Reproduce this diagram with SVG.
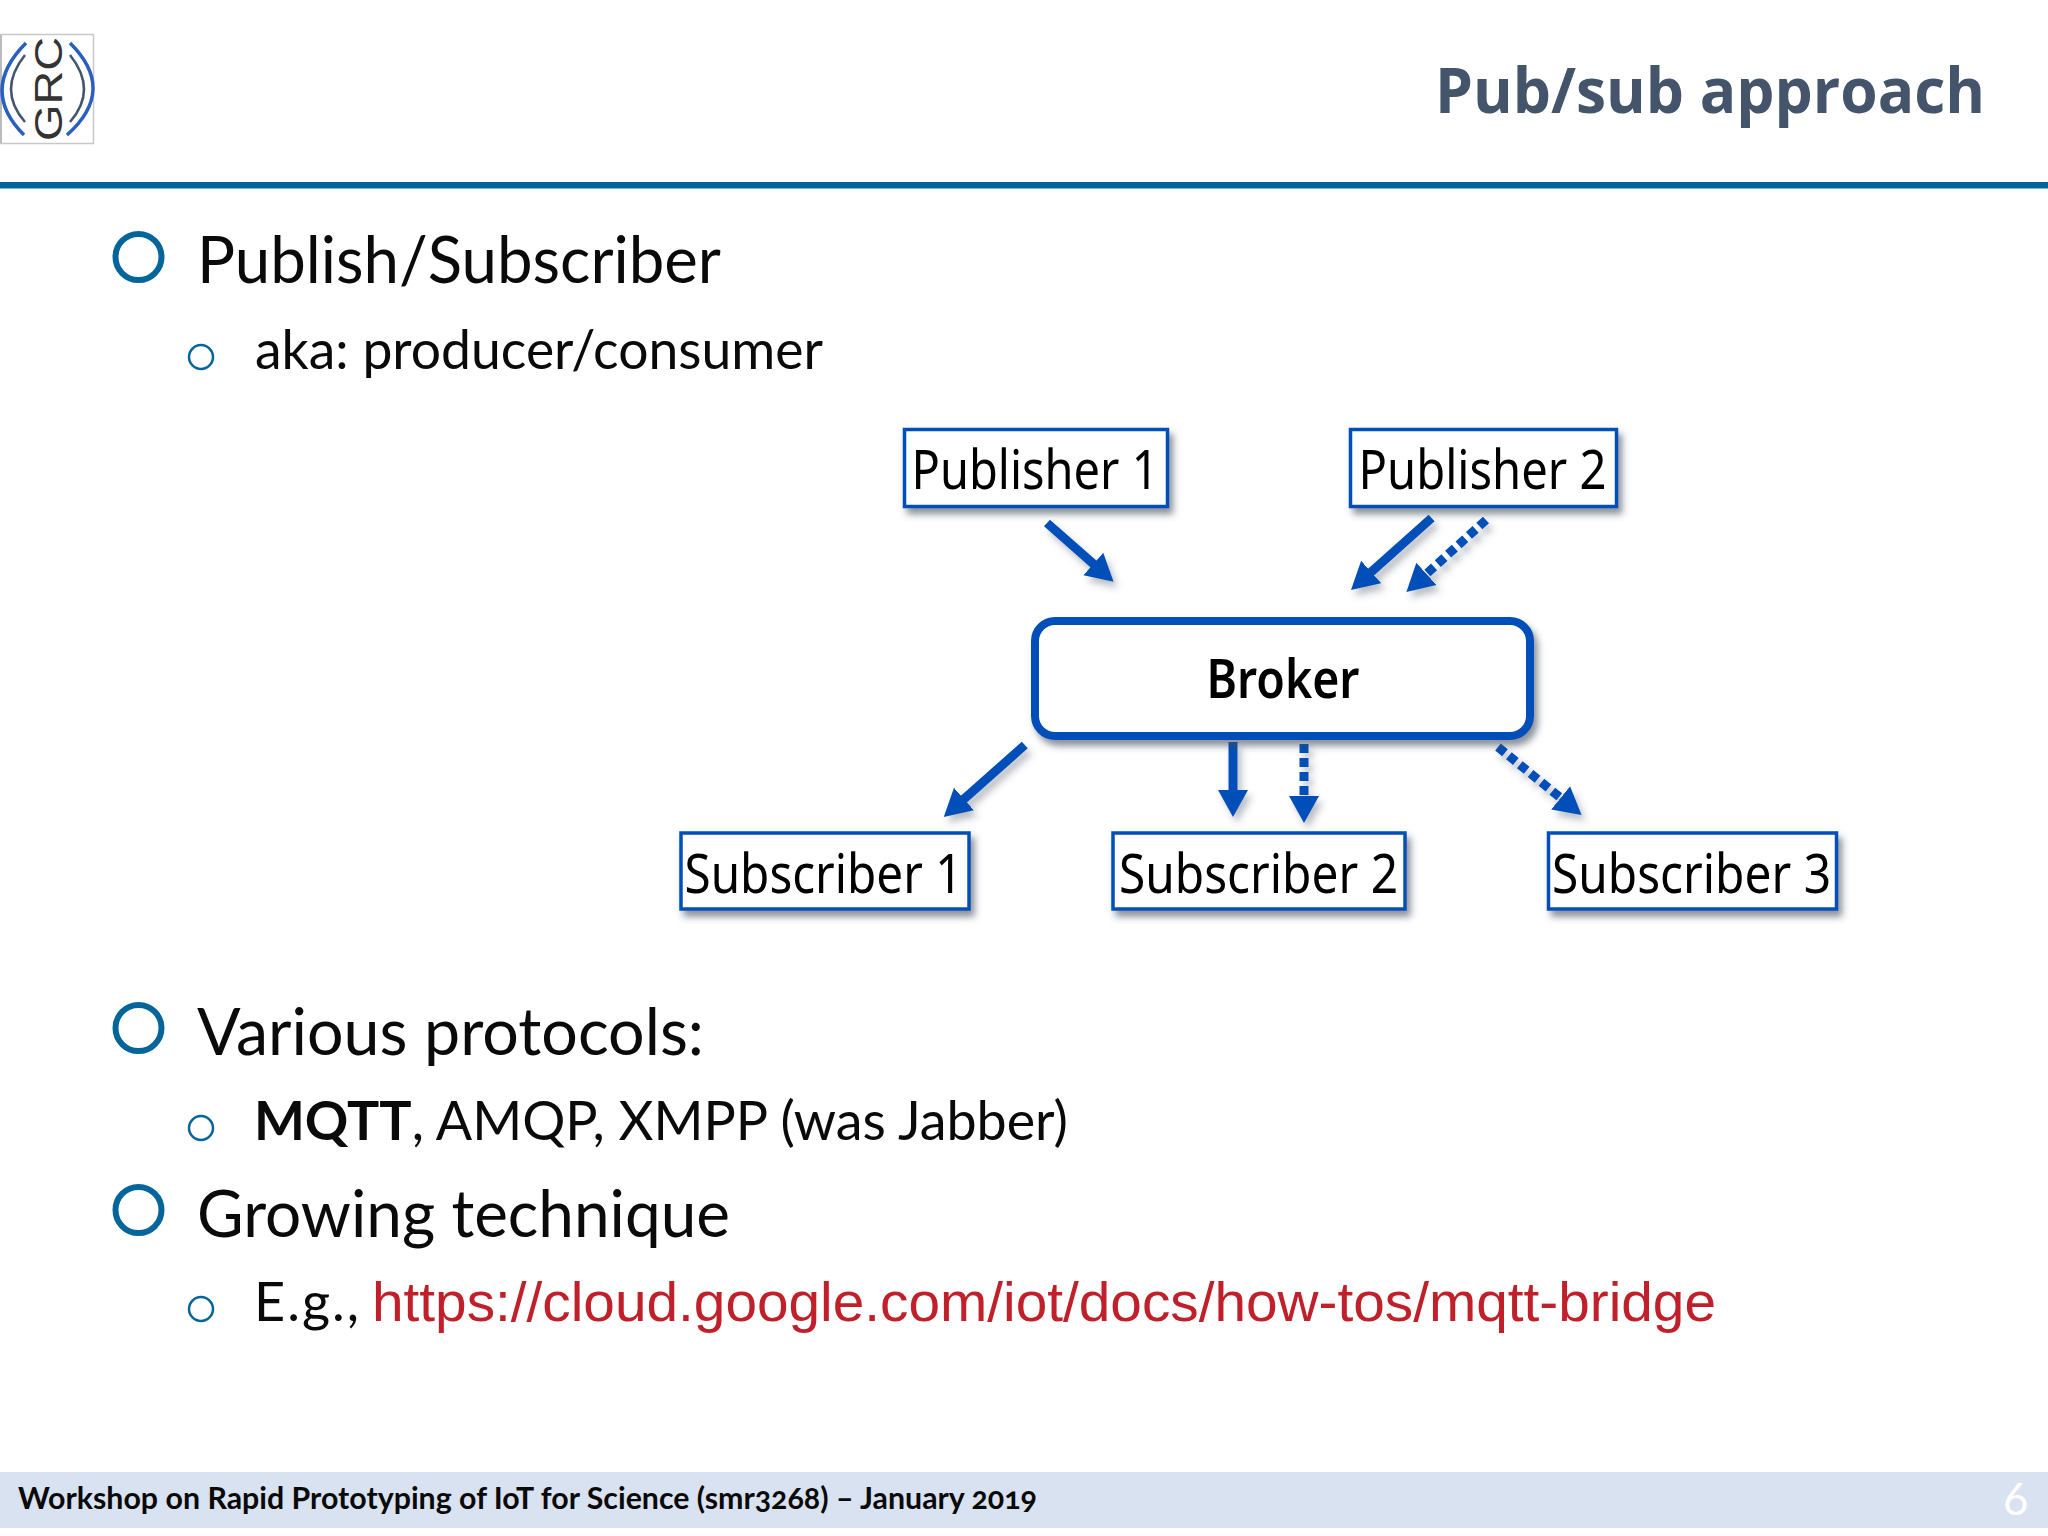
<svg xmlns="http://www.w3.org/2000/svg" width="2048" height="1536" viewBox="0 0 2048 1536">
<style>
.body{font-family:"Lato","Open Sans",sans-serif;fill:#0a0a0a}
.l1{font-size:66px}
.l2{font-size:54px}
.b1{fill:none;stroke:#04659a;stroke-width:6px}
.b2{fill:none;stroke:#04659a;stroke-width:2.5px}
.box{fill:#fff;stroke:#0550b8;stroke-width:3.5px;filter:url(#sh)}
.bt{font-family:"Noto Sans","Open Sans",sans-serif;font-size:55px;fill:#000}
.c{fill:none;stroke:#0550b8;stroke-width:9px;marker-end:url(#ah)}
.d{stroke-dasharray:9 5}
</style>
<defs>
<filter id="sh" x="-10%" y="-10%" width="125%" height="130%"><feDropShadow dx="4" dy="6" stdDeviation="3.5" flood-color="#3a4a5a" flood-opacity="0.6"/></filter>
<filter id="sa" filterUnits="userSpaceOnUse" x="900" y="500" width="720" height="340"><feDropShadow dx="4" dy="6" stdDeviation="3.5" flood-color="#3a4a5a" flood-opacity="0.35"/></filter>
<marker id="ah" markerUnits="userSpaceOnUse" markerWidth="32" markerHeight="32" refX="5" refY="16" orient="auto"><path d="M0 1L27 16L0 31Z" fill="#0550b8"/></marker>
</defs>
<rect width="2048" height="1536" fill="#fff"/>
<g id="logo">
<rect x="0.5" y="34.5" width="93" height="109" fill="#fff" stroke="#c8c8c8" stroke-width="1.5"/>
<rect x="0" y="35" width="2" height="108" fill="#bbb"/>
<path d="M26 43Q-21 90 24 135M70 43Q117.5 90 67 135" fill="none" stroke="#2a5fc0" stroke-width="3.5"/>
<path d="M25 55Q-3 90 25 122M70 55Q98 90 70 122" fill="none" stroke="#44546a" stroke-width="2.5"/>
<text transform="translate(62 141) rotate(-90)" font-family="Liberation Sans,sans-serif" font-size="38" fill="#333" textLength="104" lengthAdjust="spacingAndGlyphs">GRC</text>
</g>
<text id="title" x="1985" y="113" text-anchor="end" font-family="Open Sans,sans-serif" font-weight="700" font-size="63" fill="#44546a" textLength="550" lengthAdjust="spacingAndGlyphs">Pub/sub approach</text>
<rect id="rule" x="0" y="182" width="2048" height="6.5" fill="#04659a"/>
<g id="bullets">
<circle class="b1" cx="138.5" cy="257" r="23"/>
<text class="body l1" x="197" y="283" textLength="524" lengthAdjust="spacingAndGlyphs">Publish/Subscriber</text>
<circle class="b2" cx="201" cy="357" r="12"/>
<text class="body l2" x="255" y="369" textLength="568" lengthAdjust="spacingAndGlyphs">aka: producer/consumer</text>
<circle class="b1" cx="138.5" cy="1028" r="23"/>
<text class="body l1" x="197" y="1055" textLength="507" lengthAdjust="spacingAndGlyphs">Various protocols:</text>
<circle class="b2" cx="201" cy="1128" r="12"/>
<text class="body l2" x="254" y="1140" textLength="814" lengthAdjust="spacingAndGlyphs"><tspan font-weight="700">MQTT</tspan>, AMQP, XMPP (was Jabber)</text>
<circle class="b1" cx="138.5" cy="1210" r="23"/>
<text class="body l1" x="197" y="1237" textLength="533" lengthAdjust="spacingAndGlyphs">Growing technique</text>
<circle class="b2" cx="201" cy="1309" r="12"/>
<text class="body l2" x="254" y="1321" textLength="105">E.g.,</text>
<text x="372" y="1321" font-family="Liberation Sans,sans-serif" font-size="56" fill="#c0202a" textLength="1344" lengthAdjust="spacingAndGlyphs">https://cloud.google.com/iot/docs/how-tos/mqtt-bridge</text>
</g>
<g id="connectors" filter="url(#sa)">
<path class="c" d="M1047 523L1097.1 567.2"/>
<path class="c" d="M1431.6 518L1367.4 575.3"/>
<path class="c d" d="M1486 520L1422.7 577.2"/>
<path class="c" d="M1024.8 745L960.2 802.4"/>
<path class="c" d="M1233 742V795"/>
<path class="c d" d="M1304 744V801"/>
<path class="c d" d="M1498 747L1564.5 801.1"/>
</g>
<g id="publisher1"><rect class="box" x="904.5" y="429.5" width="263" height="77"/><text class="bt" x="911.5" y="489" textLength="247" lengthAdjust="spacingAndGlyphs">Publisher 1</text></g>
<g id="publisher2"><rect class="box" x="1350.5" y="429.5" width="266" height="77"/><text class="bt" x="1358.5" y="489" textLength="248" lengthAdjust="spacingAndGlyphs">Publisher 2</text></g>
<g id="broker"><rect x="1035" y="621" width="495" height="115" rx="20" fill="#fff" stroke="#0550b8" stroke-width="8" filter="url(#sh)"/><text class="bt" x="1206.5" y="698" font-weight="600" textLength="153" lengthAdjust="spacingAndGlyphs">Broker</text></g>
<g id="subscriber1"><rect class="box" x="681" y="833" width="288" height="76"/><text class="bt" x="684.5" y="893" textLength="278" lengthAdjust="spacingAndGlyphs">Subscriber 1</text></g>
<g id="subscriber2"><rect class="box" x="1113" y="833" width="292" height="76"/><text class="bt" x="1119" y="893" textLength="279" lengthAdjust="spacingAndGlyphs">Subscriber 2</text></g>
<g id="subscriber3"><rect class="box" x="1548.5" y="833" width="288" height="76"/><text class="bt" x="1552" y="893" textLength="279" lengthAdjust="spacingAndGlyphs">Subscriber 3</text></g>
<g id="footer">
<rect x="0" y="1472" width="2048" height="56" fill="#d9e2f0"/>
<text x="18" y="1509" font-family="Lato,Open Sans,sans-serif" font-weight="700" font-size="30" fill="#0a0a0a" textLength="1019" lengthAdjust="spacingAndGlyphs" style="font-variant-numeric:oldstyle-nums">Workshop on Rapid Prototyping of IoT for Science (smr3268) – January 2019</text>
<text x="2003" y="1515" font-family="Lato,Open Sans,sans-serif" font-size="44" fill="#fff">6</text>
</g>
</svg>
